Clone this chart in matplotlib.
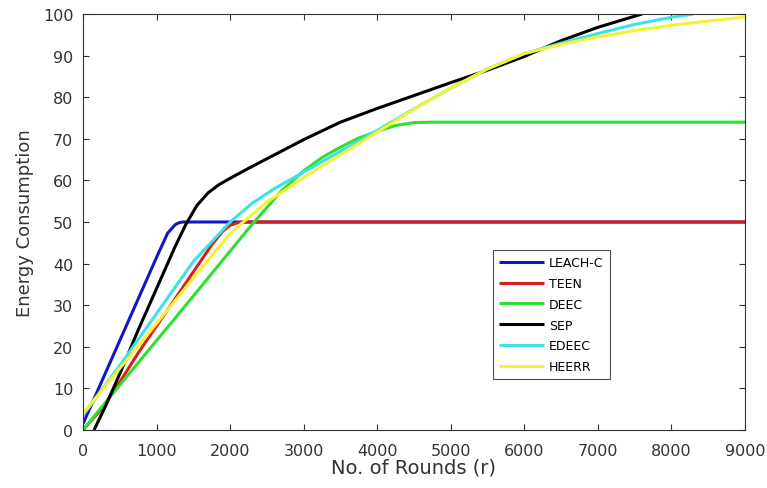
import matplotlib
matplotlib.use("Agg")
import matplotlib.pyplot as plt

# ---- data ----
leach_x = [0, 500, 1000, 1150, 1250, 1300, 1350, 1400, 9000]
leach_y = [1.5, 21.5, 41.5, 47.3, 49.3, 49.8, 50, 50, 50]

teen_x = [0, 250, 500, 750, 1000, 1250, 1500, 1750, 1900, 2000, 2100, 2200, 9000]
teen_y = [0, 5, 11.5, 18.5, 25, 31.5, 38, 44.5, 47.8, 49.2, 49.8, 50, 50]

deec_x = [0, 500, 1000, 1500, 2000, 2250, 2500, 2700, 3000, 3250, 3500, 3750, 4000, 4250, 4500, 4750, 9000]
deec_y = [0, 10.8, 21.5, 32.2, 43, 48.4, 53.5, 57.5, 62.3, 65.5, 68, 70.2, 71.8, 73.2, 73.9, 74, 74]

sep_x = [150, 300, 500, 750, 1000, 1250, 1400, 1550, 1700, 1850, 2000, 2250, 2500, 3000, 3500, 4000,
         4500, 5000, 5500, 6000, 6500, 7000, 7600]
sep_y = [0, 5.5, 13.5, 24, 34, 44, 49.5, 54, 57, 59, 60.5, 62.9, 65.2, 69.8, 74, 77.3,
         80.4, 83.5, 86.5, 89.8, 93.6, 96.8, 100]

edeec_x = [0, 500, 1000, 1500, 2000, 2300, 2600, 3000, 3500, 4000, 4500, 5000, 5500, 6000, 6500,
           7000, 7500, 8000, 8300]
edeec_y = [3.5, 15.5, 28, 40.5, 50, 54.5, 58, 62, 67, 72, 77.2, 82.2, 86.8, 90.5, 93, 95.3, 97.5, 99.2, 100]

heerr_x = [0, 500, 1000, 1500, 2000, 2500, 2700, 3000, 3500, 4000, 4500, 5000, 5500, 6000, 6500,
           7000, 7500, 8000, 8500, 9000]
heerr_y = [4, 14.8, 25.6, 36.5, 47.3, 54.8, 57.1, 60.7, 66.2, 71.6, 77.1, 82.2, 86.8, 90.5, 92.7,
           94.5, 96, 97.3, 98.3, 99.3]

series = [
    ("LEACH-C", leach_x, leach_y, "#1414c8"),
    ("TEEN", teen_x, teen_y, "#d81e1e"),
    ("DEEC", deec_x, deec_y, "#2ee02e"),
    ("SEP", sep_x, sep_y, "#000000"),
    ("EDEEC", edeec_x, edeec_y, "#3ee0ea"),
    ("HEERR", heerr_x, heerr_y, "#f4f232"),
]

x_ticks = list(range(0, 9001, 1000))
y_ticks = list(range(0, 101, 10))

fig = plt.figure(figsize=(7.67, 4.89), dpi=100)
ax = fig.add_axes([0.1082, 0.1186, 0.8631, 0.8507])

for name, xs, ys, c in series:
    ax.plot(xs, ys, color=c, lw=2.2, label=name, solid_capstyle="butt")

ax.set_xlim(0, 9000)
ax.set_ylim(0, 100)
ax.set_xticks(x_ticks)
ax.set_yticks(y_ticks)
ax.tick_params(direction="in", top=True, right=True, length=4, width=0.8,
               labelsize=11.5, labelcolor="#333333", color="#333333")
ax.tick_params(axis="x", pad=9)
ax.tick_params(axis="y", pad=7)
for s in ax.spines.values():
    s.set_color("#333333")
    s.set_linewidth(0.8)
ax.set_xlabel("No. of Rounds (r)", fontsize=14, color="#333333", labelpad=0)
ax.set_ylabel("Energy Consumption", fontsize=13, color="#333333", labelpad=6)

leg = ax.legend(loc="lower left", bbox_to_anchor=(0.619, 0.122), fontsize=9,
                frameon=True, fancybox=False, edgecolor="#222222", borderpad=0.5,
                labelspacing=0.62, handlelength=3.6, handletextpad=0.4, borderaxespad=0)
leg.get_frame().set_linewidth(0.8)

fig.savefig("out.png", dpi=100)
